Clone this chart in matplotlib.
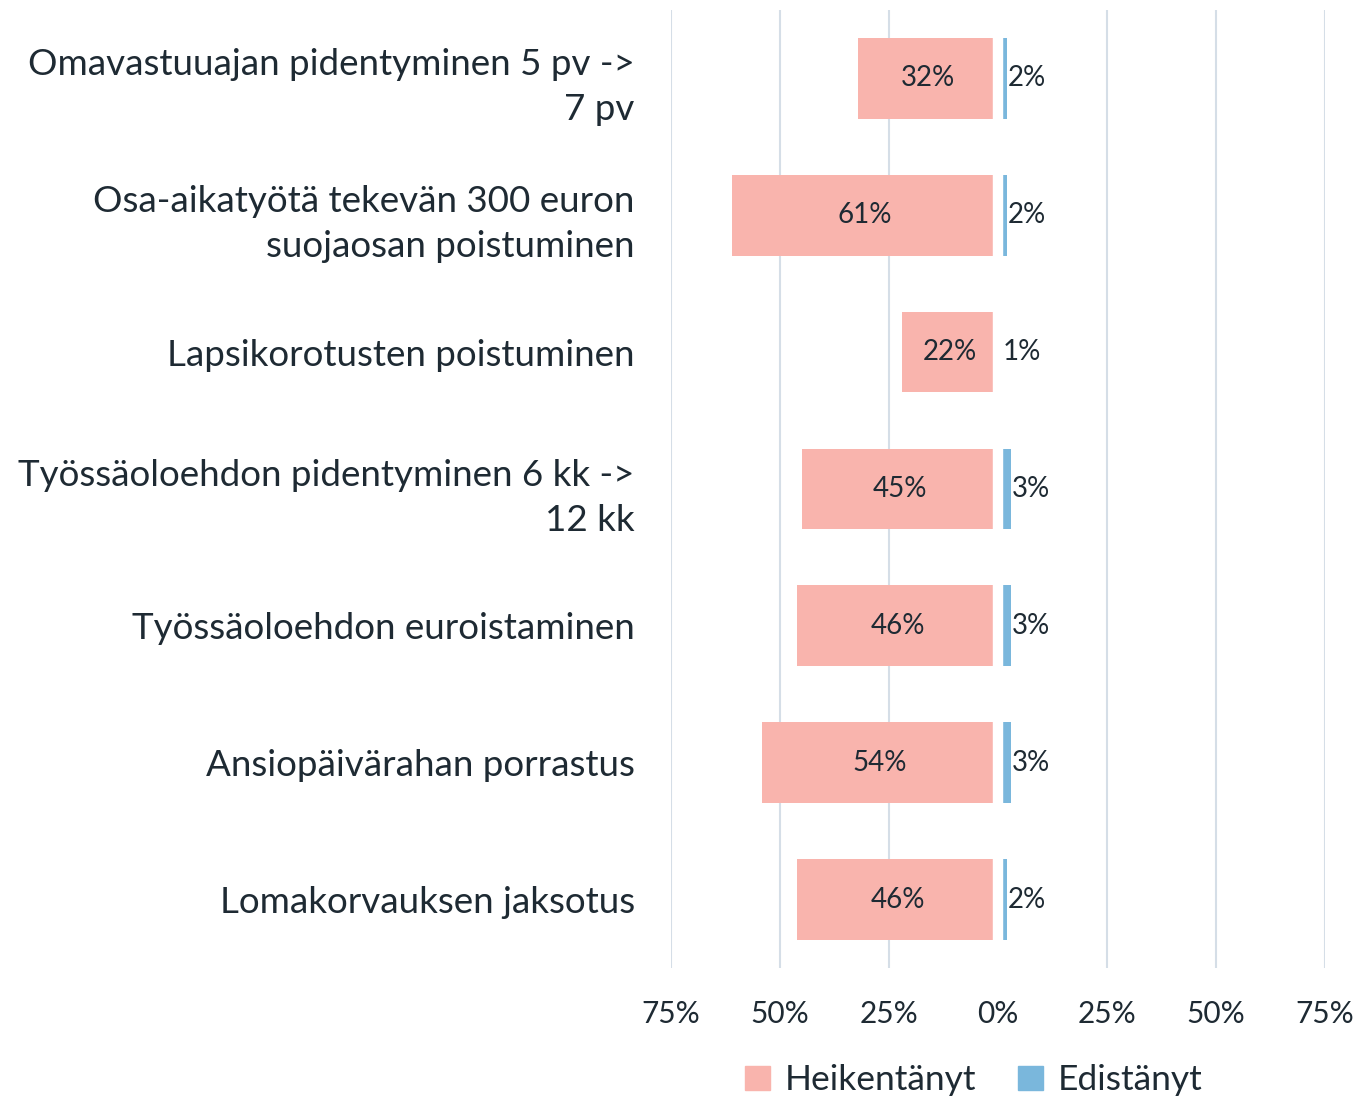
import matplotlib.pyplot as plt
from matplotlib.patches import Patch

categories = [
    "Omavastuuajan pidentyminen 5 pv ->\n7 pv",
    "Osa-aikatyötä tekevän 300 euron\nsuojaosan poistuminen",
    "Lapsikorotusten poistuminen",
    "Työssäoloehdon pidentyminen 6 kk ->\n12 kk",
    "Työssäoloehdon euroistaminen",
    "Ansiopäivärahan porrastus",
    "Lomakorvauksen jaksotus",
]
heikentanyt = [32, 61, 22, 45, 46, 54, 46]
edistanyt = [2, 2, 1, 3, 3, 3, 2]
ticks = [-75, -50, -25, 0, 25, 50, 75]

pink = "#F9B4AD"
blue = "#7AB7DC"
grid_c = "#D5DEE7"
txt = "#1E2A33"

plt.rcParams['font.family'] = ['Lato', 'DejaVu Sans']

fig = plt.figure(figsize=(13.58, 10.98), dpi=100)
ax = fig.add_axes([0.494, 0.1184, 0.4817, 0.8726])

y = list(range(len(categories)))
ax.barh(y, [-v for v in heikentanyt], height=0.59, color=pink, zorder=2)
ax.barh(y, edistanyt, height=0.59, color=blue, zorder=2)

# white gap around zero line
ax.axvline(0, color="white", lw=7.5, zorder=3)

for i in y:
    h = heikentanyt[i]
    ax.text(-h / 2, i, f"{h}%", ha="center", va="center",
            fontsize=20, color=txt, zorder=4)
    e = edistanyt[i]
    ax.text(e + 4.6, i, f"{e}%", ha="center", va="center",
            fontsize=20, color=txt, zorder=4)

ax.set_xlim(-75, 75)
ax.set_ylim(len(categories) - 0.5, -0.5)
ax.set_xticks(ticks)
ax.set_xticklabels([f"{abs(t)}%" for t in ticks], fontsize=21.5, color=txt)
ax.set_yticks(y)
ax.set_yticklabels(categories, fontsize=26.5, color=txt, linespacing=1.45)
ax.tick_params(axis="y", length=0, pad=26)
ax.tick_params(axis="x", length=0, pad=23)
for s in ax.spines.values():
    s.set_visible(False)
ax.grid(axis="x", color=grid_c, lw=1.5, zorder=0)
ax.set_axisbelow(True)

handles = [Patch(color=pink, label="Heikentänyt"), Patch(color=blue, label="Edistänyt")]
fig.legend(handles=handles, loc="center", bbox_to_anchor=(0.717, 0.016),
           ncol=2, frameon=False, fontsize=25.5, handlelength=0.7,
           handleheight=0.7, handletextpad=0.4, columnspacing=1.2,
           labelcolor=txt)

fig.savefig("out.png", dpi=100)
